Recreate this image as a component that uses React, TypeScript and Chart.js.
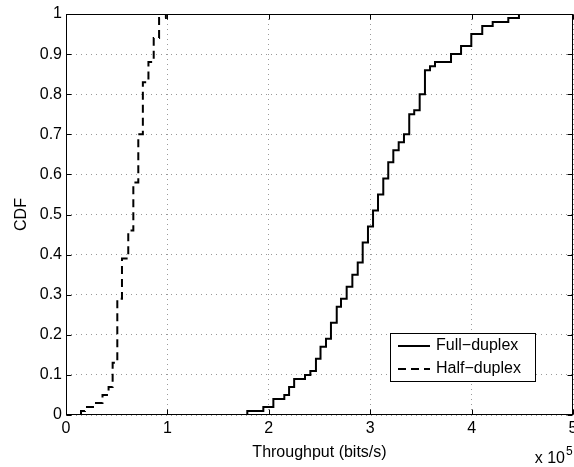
import React, { useEffect, useRef } from 'react';
import { Chart, registerables } from 'chart.js';

Chart.register(...registerables);

// ---- data (throughput in units of 1e5 bits/s, CDF value after each step) ----
const SERIES_NAMES = ['Full\u2212duplex', 'Half\u2212duplex'];

const FULL_X = [1.788, 1.788, 1.946, 2.045, 2.153, 2.2, 2.25, 2.357, 2.41, 2.465, 2.51, 2.564, 2.613, 2.67, 2.712, 2.768, 2.824, 2.877, 2.926, 2.978, 3.028, 3.077, 3.129, 3.178, 3.228, 3.281, 3.333, 3.385, 3.434, 3.488, 3.54, 3.59, 3.639, 3.797, 3.896, 3.997, 4.105, 4.208, 4.362, 4.467];
const FULL_Y = [0, 0.01, 0.02, 0.04, 0.05, 0.07, 0.09, 0.1, 0.11, 0.14, 0.17, 0.19, 0.23, 0.27, 0.29, 0.32, 0.35, 0.38, 0.43, 0.47, 0.51, 0.55, 0.59, 0.63, 0.66, 0.68, 0.7, 0.75, 0.76, 0.8, 0.86, 0.87, 0.88, 0.9, 0.92, 0.95, 0.97, 0.98, 0.99, 1.0];

const HALF_X = [0.148, 0.148, 0.187, 0.28, 0.36, 0.42, 0.46, 0.506, 0.552, 0.614, 0.664, 0.713, 0.758, 0.813, 0.865, 0.918, 0.985];
const HALF_Y = [0, 0.01, 0.02, 0.03, 0.05, 0.07, 0.13, 0.29, 0.39, 0.46, 0.58, 0.7, 0.83, 0.88, 0.94, 0.99, 1.0];

const X_TICK_LABELS = ['0', '1', '2', '3', '4', '5'];
const Y_TICK_LABELS = ['0', '0.1', '0.2', '0.3', '0.4', '0.5', '0.6', '0.7', '0.8', '0.9', '1'];
const X_TITLE = 'Throughput (bits/s)';
const Y_TITLE = 'CDF';
const X_EXP_BASE = 'x 10';
const X_EXP_POWER = '5';

const FAMILY = '"Liberation Sans", Arial, Helvetica, sans-serif';

const framePlugin = {
  id: 'matlabFrame',
  afterDatasetsDraw(chart: any) {
    const { ctx, chartArea, scales } = chart;
    const xs = scales.x;
    const ys = scales.y;
    const L = Math.round(chartArea.left) + 0.5;
    const R = Math.round(chartArea.right) - 0.5;
    const T = Math.round(chartArea.top) + 0.5;
    const B = Math.round(chartArea.bottom) - 0.5;
    const tl = 5;
    ctx.save();
    ctx.strokeStyle = '#000';
    ctx.lineWidth = 1;
    ctx.setLineDash([]);
    ctx.strokeRect(L, T, R - L, B - T);
    ctx.beginPath();
    xs.ticks.forEach((t: any) => {
      const px = Math.round(xs.getPixelForValue(t.value)) + 0.5;
      ctx.moveTo(px, B); ctx.lineTo(px, B - tl);
      ctx.moveTo(px, T); ctx.lineTo(px, T + tl);
    });
    ys.ticks.forEach((t: any) => {
      const py = Math.round(ys.getPixelForValue(t.value)) + 0.5;
      ctx.moveTo(L, py); ctx.lineTo(L + tl, py);
      ctx.moveTo(R, py); ctx.lineTo(R - tl, py);
    });
    ctx.stroke();

    // exponent label under the right end of the x axis
    ctx.fillStyle = '#000';
    ctx.font = `16px ${FAMILY}`;
    ctx.textAlign = 'right';
    ctx.textBaseline = 'alphabetic';
    const ex = chartArea.right - 8;
    const ey = chartArea.bottom + 48;
    ctx.fillText(X_EXP_BASE, ex, ey);
    ctx.font = `12px ${FAMILY}`;
    ctx.textAlign = 'left';
    ctx.fillText(X_EXP_POWER, ex + 1, ey - 8);
    ctx.restore();
  },
};

const legendPlugin = {
  id: 'matlabLegend',
  afterDraw(chart: any) {
    const { ctx, chartArea } = chart;
    const boxR = chartArea.right - 38;
    const boxB = chartArea.bottom - 34;
    const boxW = 145;
    const boxH = 48;
    const boxL = boxR - boxW;
    const boxT = boxB - boxH;
    ctx.save();
    ctx.fillStyle = '#fff';
    ctx.fillRect(boxL, boxT, boxW, boxH);
    ctx.strokeStyle = '#000';
    ctx.lineWidth = 1;
    ctx.setLineDash([]);
    ctx.strokeRect(Math.round(boxL) + 0.5, Math.round(boxT) + 0.5, boxW, boxH);
    chart.data.datasets.forEach((ds: any, i: number) => {
      const cy = boxT + 13 + i * 23;
      ctx.beginPath();
      ctx.strokeStyle = ds.borderColor;
      ctx.lineWidth = ds.borderWidth;
      ctx.setLineDash(ds.borderDash || []);
      ctx.moveTo(boxL + 8, cy);
      ctx.lineTo(boxL + 40, cy);
      ctx.stroke();
      ctx.setLineDash([]);
      ctx.fillStyle = '#000';
      ctx.font = `16px ${FAMILY}`;
      ctx.textAlign = 'left';
      ctx.textBaseline = 'middle';
      ctx.fillText(ds.label, boxL + 46, cy);
    });
    ctx.restore();
  },
};

export default function App() {
  const ref = useRef<HTMLCanvasElement>(null);

  useEffect(() => {
    const canvas = ref.current;
    if (!canvas) return;
    const chart = new Chart(canvas, {
      type: 'line',
      data: {
        datasets: [
          {
            label: SERIES_NAMES[0],
            data: FULL_X.map((x, i) => ({ x, y: FULL_Y[i] })),
            borderColor: '#000',
            borderWidth: 2,
            stepped: 'before',
            pointRadius: 0,
            fill: false,
          },
          {
            label: SERIES_NAMES[1],
            data: HALF_X.map((x, i) => ({ x, y: HALF_Y[i] })),
            borderColor: '#000',
            borderWidth: 2,
            borderDash: [8, 5],
            stepped: 'before',
            pointRadius: 0,
            fill: false,
          },
        ],
      },
      options: {
        responsive: false,
        animation: false,
        devicePixelRatio: 1,
        layout: { padding: { top: 14, right: 1, left: 0, bottom: 0 } },
        plugins: { legend: { display: false }, tooltip: { enabled: false } },
        scales: {
          x: {
            type: 'linear',
            min: 0,
            max: 5,
            ticks: {
              stepSize: 1,
              color: '#000',
              padding: 4,
              maxRotation: 0,
              font: { family: FAMILY, size: 16 },
              callback: (v: any) => X_TICK_LABELS[Math.round(Number(v))] ?? '',
            },
            grid: { color: '#9a9a9a', lineWidth: 1, drawTicks: false },
            border: { display: false, dash: [1, 4] },
            title: {
              display: true,
              text: X_TITLE,
              color: '#000',
              font: { family: FAMILY, size: 16 },
              padding: { top: 0, bottom: 5 },
            },
            afterFit: (s: any) => {
              s.height = 52;
              s.paddingLeft = 0;
              s.paddingRight = 0;
            },
          },
          y: {
            type: 'linear',
            min: 0,
            max: 1,
            ticks: {
              stepSize: 0.1,
              color: '#000',
              padding: 4,
              font: { family: FAMILY, size: 16 },
              callback: (v: any) => Y_TICK_LABELS[Math.round(Number(v) * 10)] ?? '',
            },
            grid: { color: '#9a9a9a', lineWidth: 1, drawTicks: false },
            border: { display: false, dash: [1, 4] },
            title: {
              display: true,
              text: Y_TITLE,
              color: '#000',
              font: { family: FAMILY, size: 16 },
              padding: { top: 12, bottom: 0 },
            },
            afterFit: (s: any) => {
              s.width = 66;
              s.paddingTop = 0;
              s.paddingBottom = 0;
            },
          },
        },
      },
      plugins: [framePlugin, legendPlugin],
    });
    return () => chart.destroy();
  }, []);

  return (
    <div style={{ position: 'fixed', left: 0, top: 0, width: 574, height: 467, background: '#fff' }}>
      <canvas ref={ref} width={574} height={467} style={{ display: 'block' }} />
    </div>
  );
}
